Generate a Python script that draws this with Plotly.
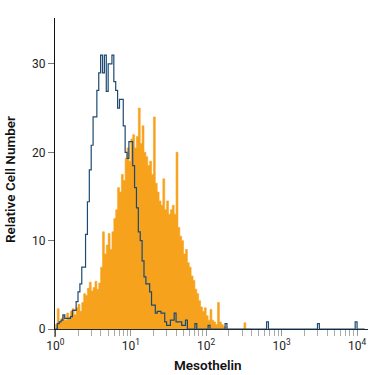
import plotly.graph_objects as go

# ---- data (histogram counts in log-spaced bins, 0.025 decade each, starting at 10^0) ----
BIN_W = 0.025

mesothelin_counts = [
    0.5, 2.3, 0.8,
    1.2, 1.5, 1.0, 1.8, 1.3,
    2.0, 2.3, 1.6, 2.4, 2.8, 2.0,
    3.0, 4.0, 3.8,
    4.6, 5.3, 4.3, 4.7, 5.4, 4.5, 5.2,
    7.0, 11.0, 8.5,
    9.5, 10.8, 9.0, 11.0,
    12.5, 13.5, 16.0,
    15.5, 17.5, 16.8, 19.3,
    20.5, 19.0, 21.5,
    22.0, 20.5, 21.8, 25.0,
    21.0, 23.0, 20.0, 19.5,
    18.5, 19.0, 17.5, 24.0,
    16.5, 15.5, 14.5, 14.0,
    17.0, 13.5, 14.5, 13.0,
    13.5, 14.0, 13.0, 20.0,
    11.5, 10.5, 10.0,
    8.5, 9.0, 7.5,
    7.0, 6.0, 5.5,
    4.5, 4.0, 3.2,
    2.5, 2.0, 2.4,
    1.5, 1.0, 2.2,
    1.0, 0.8, 0.5,
    3.0,
    0.8, 0.5, 0.3, 0.2,
    0, 0, 0, 0, 0, 0, 0, 0, 0,
    0.7,
    0, 0, 0,
]

isotype_counts = [
    0, 0.6, 0.8, 1.0, 1.6, 1.2, 1.2, 1.2, 1.4, 2.1,
    2.1, 3.1, 4.2, 5.1, 7.0, 7.0, 10.7, 14.4, 18.0, 20.8,
    24.0, 24.0, 27.0, 29.0, 31.0, 29.0, 31.0, 26.9, 30.0, 30.0,
    31.0, 28.0, 27.0, 25.0, 26.0, 26.0, 23.0, 20.0, 19.3, 21.2,
    21.2, 18.5, 16.0, 13.7, 11.0, 10.0, 7.7, 5.9, 5.1, 5.1,
    4.2, 2.7, 2.7, 1.8, 2.0, 2.0, 1.8, 1.8, 0.8, 0.4,
    0.4, 1.0, 1.0, 1.8, 0.8, 0.8, 0.8, 0.4, 0.4, 1.0,
    0, 0, 0, 0, 0.6, 0, 0, 0, 0, 0,
    0, 0.4, 0, 0, 0, 0, 0, 0, 0, 0,
    0.6, 0, 0, 0, 0, 0, 0, 0, 0, 0,
    0, 0, 0, 0, 0, 0, 0, 0, 0, 0,
    0, 0, 0.8, 0, 0, 0, 0, 0, 0, 0,
    0, 0, 0, 0, 0, 0, 0, 0, 0, 0,
    0, 0, 0, 0, 0, 0, 0, 0, 0, 0.6,
    0, 0, 0, 0, 0, 0, 0, 0, 0, 0,
    0, 0, 0, 0, 0, 0, 0, 0, 0, 0.8,
    0, 0, 0, 0,
]

x_tick_vals = [1, 10, 100, 1000, 10000]
x_tick_text = ["10<sup>0</sup>", "10<sup>1</sup>", "10<sup>2</sup>", "10<sup>3</sup>", "10<sup>4</sup>"]
y_tick_vals = [0, 10, 20, 30]
x_title = "Mesothelin"
y_title = "Relative Cell Number"

ORANGE = "#F7A21D"
NAVY = "#1d4a72"
FONT = "Roboto, Liberation Sans, sans-serif"


def step_xy(counts):
    xs = [10 ** (BIN_W * i) for i in range(len(counts) + 1)]
    ys = list(counts) + [counts[-1]]
    return [xs[0]] + xs + [xs[-1]], [0] + ys + [0]


fig = go.Figure()

ox, oy = step_xy(mesothelin_counts)
fig.add_trace(go.Scatter(
    x=ox, y=oy, mode="lines", line=dict(color=ORANGE, width=0.6, shape="hv"),
    fill="tozeroy", fillcolor=ORANGE, hoverinfo="skip", showlegend=False,
))

bx, by = step_xy(isotype_counts)
fig.add_trace(go.Scatter(
    x=bx, y=by, mode="lines", line=dict(color=NAVY, width=1.2, shape="hv"),
    hoverinfo="skip", showlegend=False,
))

minor_vals = [m * 10 ** k for k in range(4) for m in range(2, 10)]

title_font = dict(size=13.5, color="#111", family=FONT, weight=600)

fig.update_layout(
    width=375, height=375,
    margin=dict(l=55, r=7, t=18, b=46),
    paper_bgcolor="white", plot_bgcolor="white",
    font=dict(family=FONT, size=12, color="#222"),
    xaxis=dict(
        type="log", range=[-0.005, 4.145],
        tickvals=x_tick_vals, ticktext=x_tick_text,
        ticks="outside", ticklen=6, tickcolor="#999", tickwidth=1,
        minor=dict(tickvals=minor_vals, ticks="outside", ticklen=6, tickcolor="#aaa", tickwidth=1),
        showgrid=False, zeroline=False,
        showline=True, linecolor="#1a2a3a", linewidth=1,
        tickfont=dict(size=12, color="#222", family=FONT),
    ),
    yaxis=dict(
        range=[0, 35.2],
        tickvals=y_tick_vals,
        ticks="outside", ticklen=6, tickcolor="#777", tickwidth=1,
        showgrid=False, zeroline=False,
        showline=True, linecolor="#111", linewidth=1,
        tickfont=dict(size=12, color="#222", family=FONT),
    ),
    annotations=[
        dict(text=x_title, xref="paper", yref="paper", x=0.489, y=-0.116,
             xanchor="center", yanchor="middle", showarrow=False, font=title_font),
        dict(text=y_title, xref="paper", yref="paper", x=-0.144, y=0.482, textangle=-90,
             xanchor="center", yanchor="middle", showarrow=False, font=title_font),
    ],
    shapes=[dict(type="line", xref="paper", yref="paper", x0=0, x1=0, y0=0, y1=-0.026,
                 line=dict(color="#111", width=1))],
)

fig.write_html("out.html")
